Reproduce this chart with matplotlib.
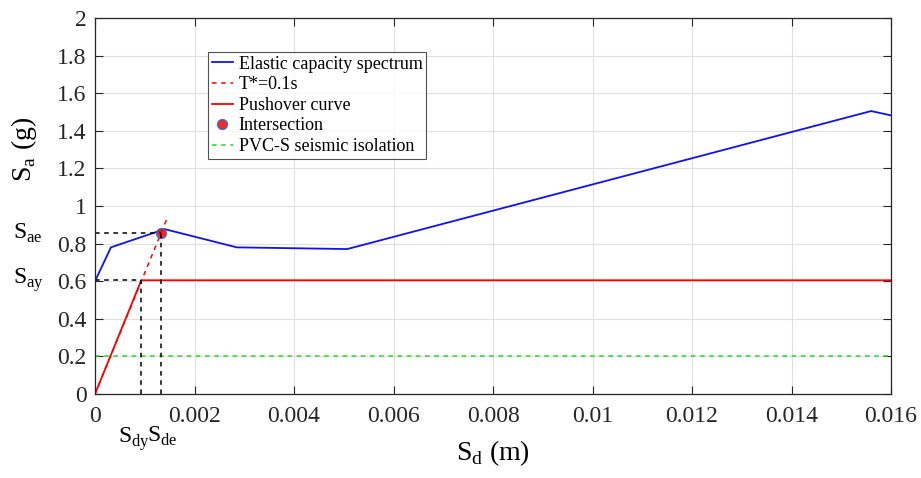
import matplotlib.pyplot as plt
import numpy as np

plt.rcParams['font.family'] = ['Liberation Serif', 'DejaVu Serif']
plt.rcParams['mathtext.fontset'] = 'custom'
plt.rcParams['mathtext.rm'] = 'Liberation Serif'

# elastic capacity spectrum
sd_elastic = [0.0, 0.00032, 0.0014, 0.00285, 0.00507, 0.0156, 0.016]
sa_elastic = [0.60, 0.78, 0.877, 0.78, 0.771, 1.505, 1.482]

# T*=0.1s line
sd_period = [0.0, 0.00145]
sa_period = [0.0, 0.935]

# pushover curve (bilinear)
sd_push = [0.0, 0.00093, 0.016]
sa_push = [0.0, 0.605, 0.605]

# intersection / yield point
sd_de, sa_ae = 0.00133, 0.856
sd_dy, sa_ay = 0.00093, 0.605

# isolation level
sd_iso = [0.0, 0.016]
sa_iso = [0.2, 0.2]

fig = plt.figure(figsize=(9.21, 4.78), dpi=100)
ax = fig.add_axes([95/921, 84/478, 796/921, 376/478])

ax.plot(sd_elastic, sa_elastic, color='#1010ff', lw=1.3, label='Elastic capacity spectrum')
ax.plot(sd_period, sa_period, color='red', ls=(0, (3, 3)), lw=1.1, label='T*=0.1s')
ax.plot(sd_push, sa_push, color='red', lw=1.3, label='Pushover curve')
ax.plot([sd_de], [sa_ae], 'o', ms=7, mfc='red', mec='#4060c0', mew=1.2, alpha=0.85,
        label='Intersection')
ax.plot(sd_iso, sa_iso, color='#22dd22', ls=(0, (3, 3)), lw=1.1, label='PVC-S seismic isolation')

# guide lines
ax.plot([0, sd_de], [sa_ae, sa_ae], 'k', ls=(0, (3, 3)), lw=1.1)
ax.plot([sd_de, sd_de], [0, sa_ae], 'k', ls=(0, (3, 3)), lw=1.1)
ax.plot([0, sd_dy], [sa_ay, sa_ay], 'k', ls=(0, (3, 3)), lw=1.1)
ax.plot([sd_dy, sd_dy], [0, sa_ay], 'k', ls=(0, (3, 3)), lw=1.1)

ax.set_xlim(0, 0.016)
ax.set_ylim(0, 2)
ax.set_xticks(np.arange(0, 0.0161, 0.002))
ax.set_xticklabels(['0', '0.002', '0.004', '0.006', '0.008', '0.01', '0.012', '0.014', '0.016'])
ax.set_yticks(np.arange(0, 2.01, 0.2))
ax.set_yticklabels(['0', '0.2', '0.4', '0.6', '0.8', '1', '1.2', '1.4', '1.6', '1.8', '2'])
ax.tick_params(direction='in', top=True, right=True, labelsize=17, length=6, width=0.8,
               colors='#262626')
ax.tick_params(axis='x', pad=9)
ax.tick_params(axis='y', pad=6)
ax.grid(True, color='#e0e0e0', lw=0.8)
for s in ax.spines.values():
    s.set_color('#262626')
    s.set_linewidth(0.9)

ax.set_xlabel(r'S$_\mathrm{d}$ (m)', fontsize=20)
ax.xaxis.set_label_coords(0.5, -(453 - 394) / 376, transform=ax.transAxes)
ax.get_xaxis().label.set_va('center')
ax.set_ylabel(r'S$_\mathrm{a}$ (g)', fontsize=20)
ax.yaxis.set_label_coords(-(95 - 24) / 796, (394 - 149) / 376)
ax.get_yaxis().label.set_va('center')

ax.text(-0.00165, sa_ae + 0.0, r'S$_\mathrm{ae}$', fontsize=17, ha='left', va='center')
ax.text(-0.00165, sa_ay + 0.0, r'S$_\mathrm{ay}$', fontsize=17, ha='left', va='center')
ax.text(0.00046, -0.165, r'S$_\mathrm{dy}$', fontsize=17, ha='left', va='top')
ax.text(0.00105, -0.165, r'S$_\mathrm{de}$', fontsize=17, ha='left', va='top')

leg = ax.legend(loc='upper left', bbox_to_anchor=(113/796, 1 - 34/376), fontsize=13,
                frameon=True, fancybox=False, handlelength=1.2, handletextpad=0.3,
                borderpad=0.2, labelspacing=0.2, borderaxespad=0)
leg.get_frame().set_edgecolor('#262626')
leg.get_frame().set_linewidth(0.8)

fig.savefig('out.png', dpi=100)
